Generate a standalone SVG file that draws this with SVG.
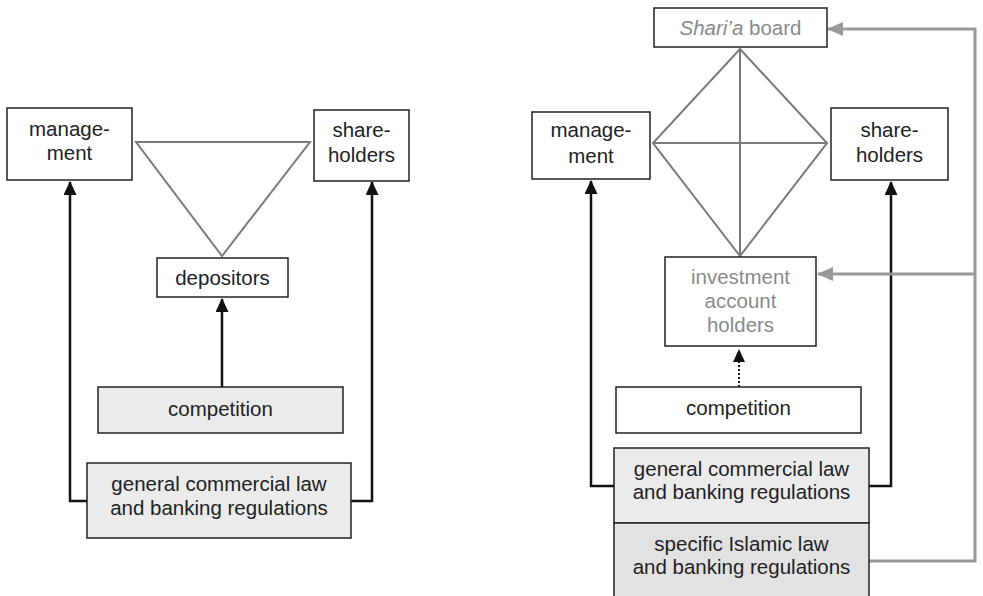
<svg xmlns="http://www.w3.org/2000/svg" width="983" height="596" viewBox="0 0 983 596">
<style>
.box{fill:#fff;stroke:#222;stroke-width:1.5}
.shade{fill:#ebebeb;stroke:#222;stroke-width:1.5}
.shade2{fill:#e2e2e3;stroke:#222;stroke-width:1.5}
.t{font-family:"Liberation Sans",Arial,sans-serif;font-size:20.5px;fill:#222;text-anchor:middle}
.g{fill:#8a8a8a}
.blk{fill:none;stroke:#111;stroke-width:2.5}
.gry{fill:none;stroke:#999;stroke-width:3}
.tri{fill:none;stroke:#7a7a7a;stroke-width:2}
</style>
<defs>
<marker id="ab" markerUnits="userSpaceOnUse" markerWidth="14" markerHeight="13" viewBox="0 0 14 13" refX="13" refY="6.5" orient="auto">
<path d="M0,0 L14,6.5 L0,13 z" fill="#111"/>
</marker>
<marker id="ag" markerUnits="userSpaceOnUse" markerWidth="16" markerHeight="14" viewBox="0 0 16 14" refX="15" refY="7" orient="auto">
<path d="M0,0 L16,7 L0,14 z" fill="#999"/>
</marker>
</defs>

<g id="connectors">
<path class="blk" d="M87,501 H70 V182" marker-end="url(#ab)"/>
<path class="blk" d="M351,501 H372 V182" marker-end="url(#ab)"/>
<path class="blk" d="M222,387 V299" marker-end="url(#ab)"/>
<path class="blk" d="M614,486 H591 V181" marker-end="url(#ab)"/>
<path class="blk" d="M869,486 H891 V182" marker-end="url(#ab)"/>
<path d="M739,387 V360" fill="none" stroke="#111" stroke-width="2" stroke-dasharray="2,2"/>
<path d="M739,349 L733,362 L745,362 z" fill="#111"/>
<path class="gry" d="M869,561 H975 V29 H828" marker-end="url(#ag)"/>
<path class="gry" d="M975,274 H818" marker-end="url(#ag)"/>
</g>

<g id="triangle">
<path class="tri" d="M136,142 L310,142 L222,256 Z"/>
</g>

<g id="diamond">
<path class="tri" d="M740,49 L827,143 L740,256 L653,143 Z M740,49 V256 M653,143 H827"/>
</g>

<g id="management-left">
<rect class="box" x="7" y="108" width="125" height="72"/>
<text class="t" x="69.5" y="136">manage-</text>
<text class="t" x="69.5" y="160">ment</text>
</g>
<g id="shareholders-left">
<rect class="box" x="314" y="110" width="95" height="71"/>
<text class="t" x="361.5" y="137">share-</text>
<text class="t" x="361.5" y="162">holders</text>
</g>
<g id="depositors">
<rect class="box" x="157" y="258" width="131" height="39"/>
<text class="t" x="222.5" y="285">depositors</text>
</g>
<g id="competition-left">
<rect class="shade" x="98" y="387" width="245" height="46"/>
<text class="t" x="220.5" y="416">competition</text>
</g>
<g id="general-left">
<rect class="shade" x="87" y="463" width="264" height="75"/>
<text class="t" x="219" y="491">general commercial law</text>
<text class="t" x="219" y="515">and banking regulations</text>
</g>

<g id="sharia-board">
<rect class="box" x="654" y="8" width="173" height="39"/>
<text class="t g" x="740.5" y="35"><tspan font-style="italic">Shari’a</tspan> board</text>
</g>
<g id="management-right">
<rect class="box" x="532" y="112" width="118" height="67"/>
<text class="t" x="591" y="137">manage-</text>
<text class="t" x="591" y="163">ment</text>
</g>
<g id="shareholders-right">
<rect class="box" x="831" y="108" width="117" height="72"/>
<text class="t" x="889.5" y="137">share-</text>
<text class="t" x="889.5" y="162">holders</text>
</g>
<g id="investment-account-holders">
<rect class="box" x="665" y="257" width="151" height="89"/>
<text class="t g" x="740.5" y="284">investment</text>
<text class="t g" x="740.5" y="308">account</text>
<text class="t g" x="740.5" y="332">holders</text>
</g>
<g id="competition-right">
<rect class="box" x="616" y="387" width="245" height="46"/>
<text class="t" x="738.5" y="415">competition</text>
</g>
<g id="general-right">
<rect class="shade" x="614" y="448" width="255" height="75"/>
<text class="t" x="741.5" y="476">general commercial law</text>
<text class="t" x="741.5" y="499">and banking regulations</text>
</g>
<g id="specific-right">
<rect class="shade2" x="614" y="523" width="255" height="80"/>
<text class="t" x="741.5" y="551">specific Islamic law</text>
<text class="t" x="741.5" y="574">and banking regulations</text>
</g>
</svg>
